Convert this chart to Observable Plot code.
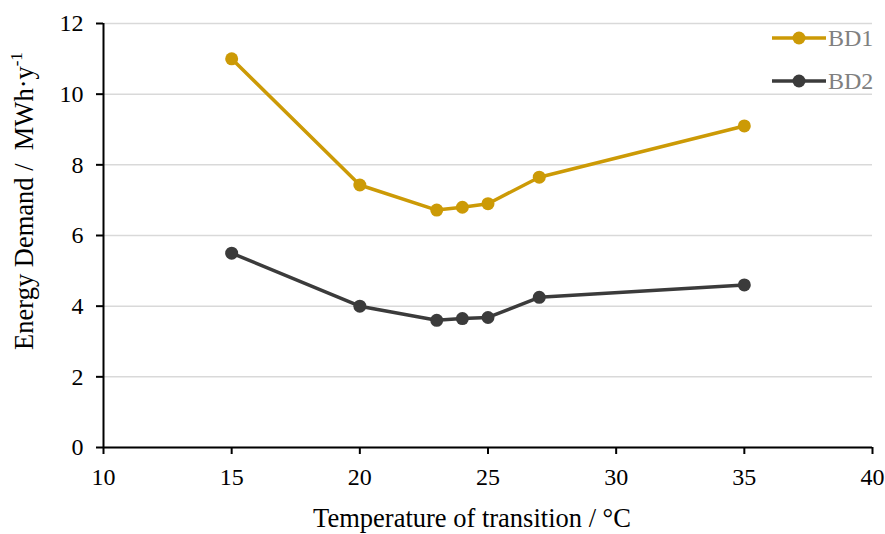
<!DOCTYPE html>
<html>
<head>
<meta charset="utf-8">
<script src="https://cdn.jsdelivr.net/npm/d3@7"></script>
<script src="https://cdn.jsdelivr.net/npm/@observablehq/plot@0.6"></script>
<style>
  html, body { margin: 0; padding: 0; background: #fff; }
  #wrap { position: relative; width: 885px; height: 534px; }
  #wrap svg { display: block; }
</style>
</head>
<body>
<div id="wrap"></div>
<script>
const temperatures = [15, 20, 23, 24, 25, 27, 35];
const bd1 = [11.0, 7.43, 6.72, 6.8, 6.9, 7.65, 9.1];
const bd2 = [5.5, 4.0, 3.6, 3.65, 3.68, 4.25, 4.6];
const seriesNames = ["BD1", "BD2"];
const seriesColors = ["#CC9A06", "#3B3B3B"];
const xTicks = [10, 15, 20, 25, 30, 35, 40];
const yTicks = [0, 2, 4, 6, 8, 10, 12];
const xTitle = "Temperature of transition / °C";
const yTitleMain = "Energy Demand /  MWh·y";
const yTitleSup = "-1";

const FONT = "Liberation Serif";

const rows = [];
[bd1, bd2].forEach((vals, si) => {
  temperatures.forEach((t, i) => rows.push({series: seriesNames[si], t, v: vals[i]}));
});

const W = 885, H = 534;
const chart = Plot.plot({
  width: W,
  height: H,
  marginLeft: 103,
  marginRight: 13,
  marginTop: 23,
  marginBottom: 87,
  style: {fontFamily: FONT, background: "#fff", color: "#000"},
  x: {domain: [10, 40], ticks: xTicks, label: null},
  y: {domain: [0, 12], ticks: yTicks, label: null},
  color: {domain: seriesNames, range: seriesColors},
  marks: [
    Plot.gridY(yTicks, {stroke: "#d9d9d9", strokeOpacity: 1, strokeWidth: 1.5}),
    Plot.ruleY([0], {stroke: "#000", strokeWidth: 2}),
    Plot.ruleX([10], {stroke: "#000", strokeWidth: 2}),
    Plot.axisX(xTicks, {tickSize: 7, strokeWidth: 2, text: null, label: null}),
    Plot.axisY(yTicks, {tickSize: 7, strokeWidth: 2, text: null, label: null}),
    Plot.text(xTicks, {x: d => d, text: d => String(d), frameAnchor: "bottom", lineAnchor: "top", dy: 20,
      fontFamily: FONT, fontSize: 24, fill: "#000"}),
    Plot.text(yTicks, {y: d => d, text: d => String(d), frameAnchor: "left", textAnchor: "end", dx: -20,
      fontFamily: FONT, fontSize: 24, fill: "#000"}),
    Plot.line(rows, {x: "t", y: "v", z: "series", stroke: "series", strokeWidth: 3.5}),
    Plot.dot(rows, {x: "t", y: "v", fill: "series", r: 6.5})
  ]
});

document.getElementById("wrap").appendChild(chart);

const svg = d3.select(chart);

// Axis titles
svg.append("text")
  .attr("x", 472).attr("y", 527)
  .attr("text-anchor", "middle")
  .style("font-family", FONT)
  .style("font-size", "26.5px")
  .attr("fill", "#000")
  .text(xTitle);

const yt = svg.append("text")
  .attr("transform", "translate(33,201) rotate(-90)")
  .attr("text-anchor", "middle")
  .style("font-family", FONT)
  .style("font-size", "26.5px")
  .attr("fill", "#000");
yt.append("tspan").text(yTitleMain);
yt.append("tspan").style("font-size", "17px").attr("dy", -11).text(yTitleSup);

// Legend
const legendY = [38, 81];
const lg = svg.append("g");
seriesNames.forEach((name, i) => {
  const g = lg.append("g").attr("transform", `translate(0,${legendY[i]})`);
  g.append("line").attr("x1", 772).attr("x2", 826).attr("y1", 0).attr("y2", 0)
    .attr("stroke", seriesColors[i]).attr("stroke-width", 3.5);
  g.append("circle").attr("cx", 799).attr("cy", 0).attr("r", 6.5).attr("fill", seriesColors[i]);
  g.append("text").attr("x", 828).attr("y", 8)
    .attr("text-anchor", "start")
    .style("font-family", FONT)
    .style("font-size", "24px").attr("fill", "#808080").text(name);
});
</script>
</body>
</html>
